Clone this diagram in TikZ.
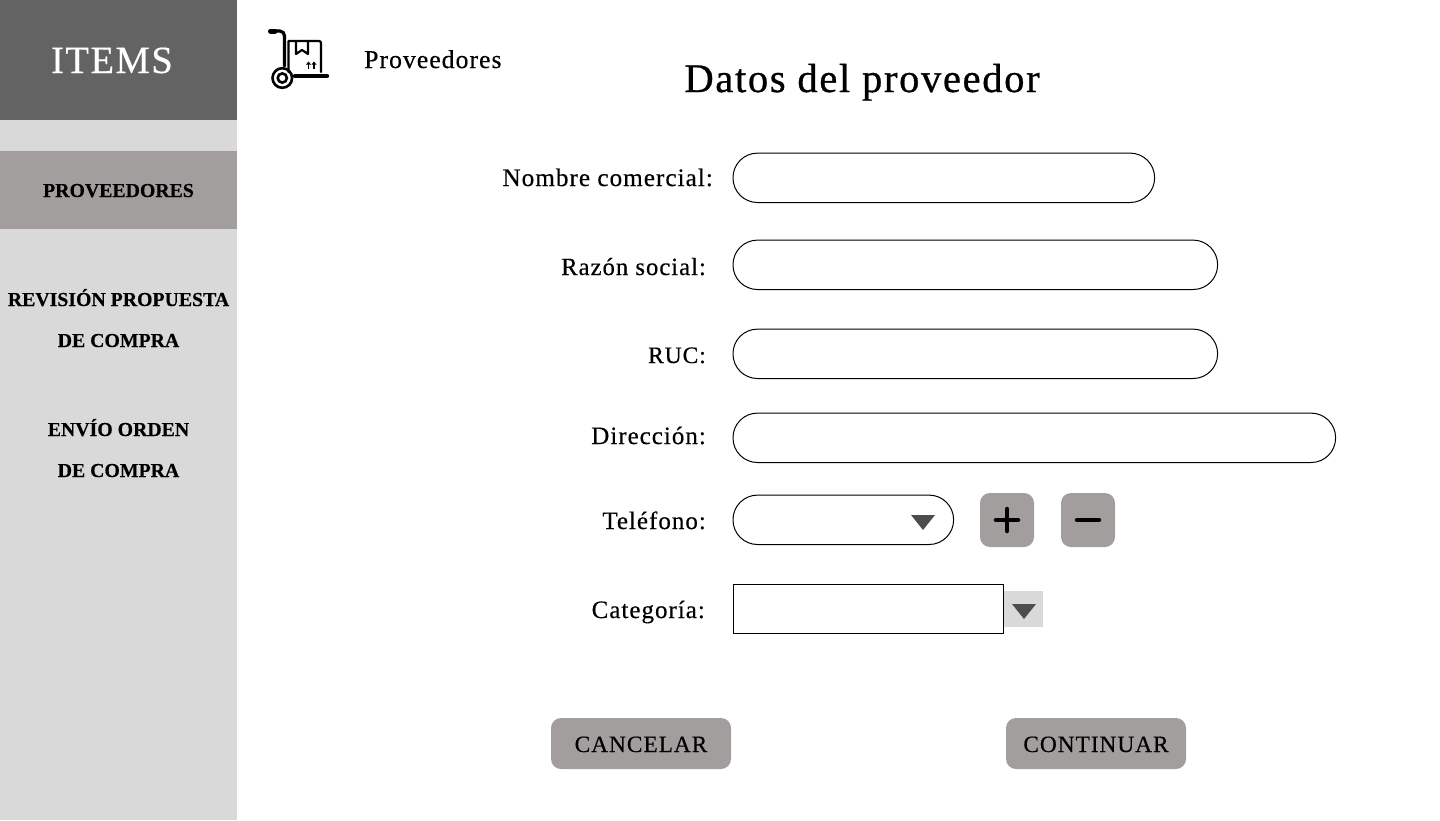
\documentclass[tikz,border=0pt]{standalone}
\usepackage{fontspec}
\setmainfont[FakeBold=0.4]{Liberation Serif}
\newfontfamily\spaced[LetterSpace=4,FakeBold=0.4]{Liberation Serif}
\newfontfamily\titlefont[LetterSpace=4,FakeBold=0.7]{Liberation Serif}
\definecolor{sidegray}{HTML}{D9D9D9}
\definecolor{headgray}{HTML}{636363}
\definecolor{btngray}{HTML}{A39E9E}
\definecolor{arrowgray}{HTML}{4D4D4D}
\newcommand{\fsize}[1]{\fontsize{#1}{#1}\selectfont}
\tikzset{
  x=1pt, y=-1pt,
  fieldbox/.style = {draw, line width=1pt, rounded corners=24.5pt, minimum height=49.4pt, inner sep=0pt},
  btnbox/.style = {fill=btngray, rounded corners=10pt, inner sep=0pt},
  formlabel/.style = {anchor=base east, inner sep=0pt, font=\spaced\fsize{25}},
  menulabel/.style = {anchor=base, inner sep=0pt, font=\bfseries\fsize{19.8}},
  btnlabel/.style = {inner sep=0pt, font=\spaced\fsize{23.4}},
  icon/.style = {line width=3.2pt, line cap=round, line join=round},
  wheel/.style = {line width=2.6pt},
  thinicon/.style = {line width=2.2pt, line cap=round, line join=round}
}

\begin{document}
\begin{tikzpicture}
  \useasboundingbox (0,0) rectangle (1440,820);
  % sidebar
  \fill[sidegray] (0,0) rectangle (237,820);
  \fill[headgray] (0,0) rectangle (237,120);
  \fill[btngray] (0,151) rectangle (237,229);
  \node[anchor=base, text=white, inner sep=0pt, font=\spaced\fsize{38.5}] (items) at (112,73) {ITEMS};
  \node[menulabel] (menuprov) at (118.5,197) {PROVEEDORES};
  \node[menulabel] (menurev) at (118.5,306) {REVISIÓN PROPUESTA};
  \node[menulabel] (menurevb) at (118.5,347) {DE COMPRA};
  \node[menulabel] (menuenv) at (118.5,436) {ENVÍO ORDEN};
  \node[menulabel] (menuenvb) at (118.5,477) {DE COMPRA};
  % cart icon
  \draw[icon] (276,31) -- (280,31) to[out=0,in=90] (284.5,36) -- (284.5,66);
  \draw[line width=5pt, line cap=round] (270.5,31) -- (275,31);
  \draw[wheel] (282.3,78) circle (9.8);
  \draw[wheel] (282.3,78) circle (4.6);
  \draw[line width=4.4pt, line cap=round] (295,76) -- (327,76);
  \draw[thinicon] (288.5,72) -- (288.5,41) -- (319,41) to[out=0,in=90] (321,43) -- (321,72);
  \draw[thinicon] (296,41) -- (296,54) -- (302,50) -- (308,54) -- (308,41);
  \draw[line width=1.8pt] (308.5,68.5) -- (308.5,63.5) (314,68.5) -- (314,63.5);
  \fill (306,64.5) -- (308.5,61.5) -- (311,64.5) -- cycle (311.5,64.5) -- (314,61.5) -- (316.5,64.5) -- cycle;
  \node[anchor=base west, inner sep=0pt, font=\spaced\fsize{25.7}] (crumb) at (364,68) {Proveedores};
  \node[anchor=base, inner sep=0pt, font=\titlefont\fsize{40.6}] (title) at (862,92) {Datos del proveedor};
  % form
  \node[formlabel, font=\spaced\fsize{25.2}] (lblnombre) at (713,186) {Nombre comercial:};
  \node[fieldbox, minimum width=421.6pt] (nombre) at (943.8,177.8) {};
  \node[formlabel, font=\spaced\fsize{24.7}] (lblrazon) at (706,275) {Razón social:};
  \node[fieldbox, minimum width=484.6pt] (razon) at (975.3,264.8) {};
  \node[formlabel, font=\spaced\fsize{23.5}] (lblruc) at (706,363) {RUC:};
  \node[fieldbox, minimum width=484.6pt] (ruc) at (975.3,353.8) {};
  \node[formlabel] (lbldir) at (706,444) {Dirección:};
  \node[fieldbox, minimum width=602.6pt] (dir) at (1034.3,437.8) {};
  \node[formlabel] (lbltel) at (706,529) {Teléfono:};
  \node[fieldbox, minimum width=220.6pt] (tel) at (843.3,519.8) {};
  \fill[arrowgray] (911,515) -- (935,515) -- (923,530) -- cycle;
  \node[btnbox, minimum width=54pt, minimum height=54pt] (plus) at (1007,520) {};
  \draw[line width=4.5pt, line cap=round] (996,520) -- (1018,520) (1007,509) -- (1007,531);
  \node[btnbox, minimum width=54pt, minimum height=54pt] (minus) at (1088,520) {};
  \draw[line width=4.5pt, line cap=round] (1077,520) -- (1099,520);
  \node[formlabel] (lblcat) at (705,618) {Categoría:};
  \fill[sidegray] (1004,591) rectangle (1043,627);
  \node[draw, line width=1pt, minimum width=270pt, minimum height=49pt, inner sep=0pt] (cat) at (868.5,609) {};
  \fill[arrowgray] (1012,604) -- (1036,604) -- (1024,619) -- cycle;
  % buttons
  \node[btnbox, minimum width=180pt, minimum height=51pt] (cancel) at (641,743.5) {};
  \node[btnlabel, anchor=base] (cancellbl) at (641,752) {CANCELAR};
  \node[btnbox, minimum width=180pt, minimum height=51pt] (cont) at (1096,743.5) {};
  \node[btnlabel, anchor=base] (contlbl) at (1096,752) {CONTINUAR};
\end{tikzpicture}
\end{document}
